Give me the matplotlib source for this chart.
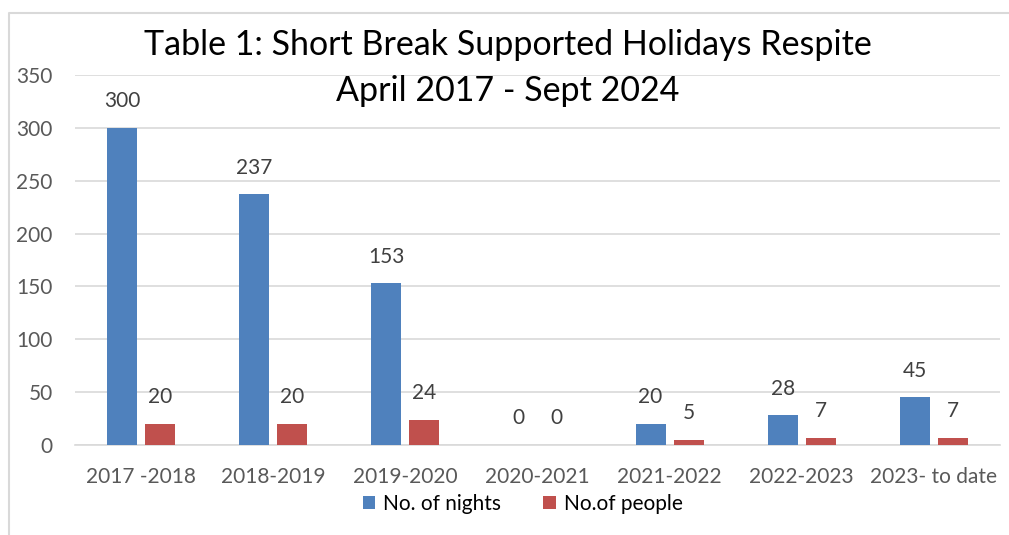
import numpy as np
import matplotlib.pyplot as plt
from matplotlib.lines import Line2D

# Data
periods = ['2017 -2018', '2018-2019', '2019-2020', '2020-2021',
           '2021-2022', '2022-2023', '2023- to date']
nights = [300, 237, 153, 0, 20, 28, 45]
people = [20, 20, 24, 0, 5, 7, 7]

plt.rcParams['font.family'] = ['Lato', 'DejaVu Sans']

fig = plt.figure(figsize=(10.09, 5.35), dpi=100)
ax = fig.add_axes([0.0743, 0.1682, 0.9167, 0.6916])

x = np.arange(len(periods))
w = 0.227
off = 0.144
b1 = ax.bar(x - off, nights, w, color='#4f81bd', label='No. of nights', zorder=3)
b2 = ax.bar(x + off, people, w, color='#c0504d', label='No.of people', zorder=3)

for bars in (b1, b2):
    for b in bars:
        ax.annotate(f'{b.get_height():.0f}', (b.get_x() + b.get_width() / 2, b.get_height()),
                    xytext=(0, 12), textcoords='offset points', ha='center', va='bottom',
                    fontsize=15, color='#404040')

ax.set_xlim(-0.5, len(periods) - 0.5)
ax.set_ylim(0, 350)
ax.set_yticks(range(0, 351, 50))
ax.set_xticks(x)
ax.set_xticklabels(periods)
ax.grid(axis='y', color='#d9d9d9', linewidth=1.2, zorder=0)
for s in ['top', 'right', 'left']:
    ax.spines[s].set_visible(False)
ax.spines['bottom'].set_color('#d9d9d9')
ax.spines['bottom'].set_linewidth(1.2)
ax.tick_params(length=0, labelsize=15, colors='#595959')
ax.tick_params(axis='x', pad=16)
ax.tick_params(axis='y', pad=16)

fig.text(0.503, 0.915, 'Table 1: Short Break Supported Holidays Respite',
         ha='center', va='center', fontsize=24.5)
fig.text(0.503, 0.83, 'April 2017 - Sept 2024', ha='center', va='center', fontsize=24.5)

fig.legend(handles=[b1, b2], loc='center', bbox_to_anchor=(0.518, 0.058), ncol=2,
           frameon=False, fontsize=15, handlelength=0.6, handleheight=0.6,
           columnspacing=2.0, handletextpad=0.4)

# light frame around chart area
fig.add_artist(Line2D([9 / 1009, 9 / 1009, 1.0], [0.0, 1 - 13 / 535, 1 - 13 / 535],
                      transform=fig.transFigure, color='#d9d9d9', linewidth=1.5))

fig.savefig('out.png', dpi=100)
